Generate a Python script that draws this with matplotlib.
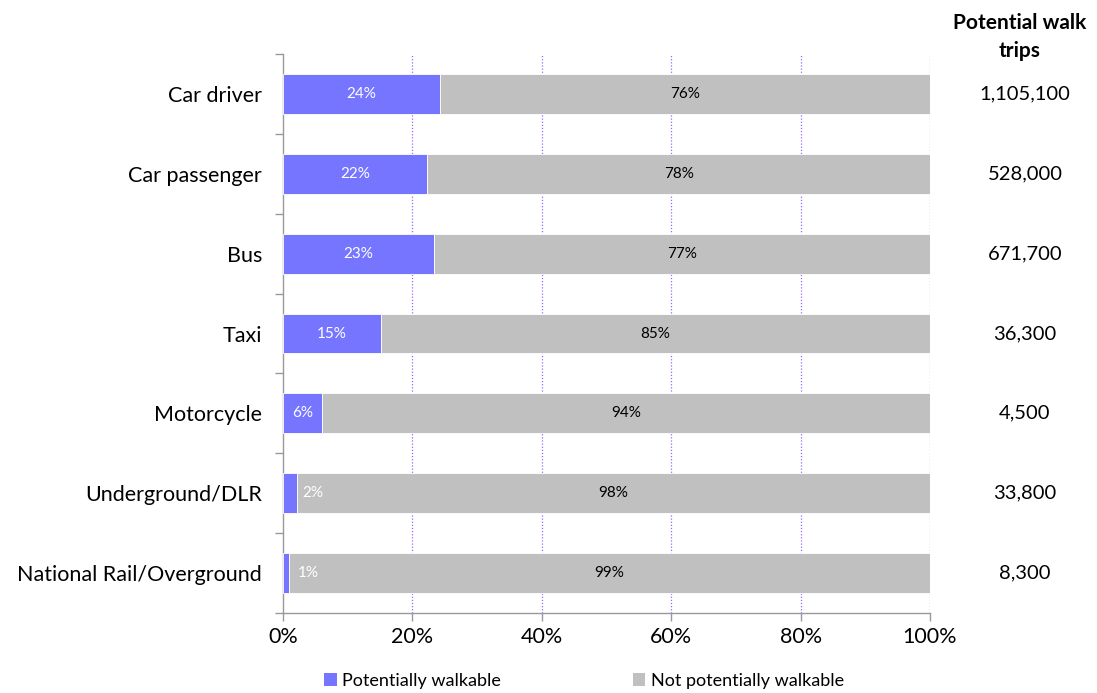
import matplotlib
matplotlib.use("Agg")
import matplotlib.pyplot as plt
import matplotlib.transforms as mtransforms
from matplotlib.patches import Patch

categories = ["Car driver", "Car passenger", "Bus", "Taxi", "Motorcycle",
              "Underground/DLR", "National Rail/Overground"]
walkable = [24.3, 22.3, 23.3, 15.1, 6.0, 2.2, 0.9]
walkable_labels = ["24%", "22%", "23%", "15%", "6%", "2%", "1%"]
not_walkable_labels = ["76%", "78%", "77%", "85%", "94%", "98%", "99%"]
trips = ["1,105,100", "528,000", "671,700", "36,300", "4,500", "33,800", "8,300"]
xticks = [0, 20, 40, 60, 80, 100]
xtick_labels = ["0%", "20%", "40%", "60%", "80%", "100%"]

not_walkable = [100 - v for v in walkable]

plt.rcParams['font.family'] = ['Lato', 'DejaVu Sans']

BLUE = "#7575ff"
GREY = "#c0c0c0"

fig = plt.figure(figsize=(10.97, 6.93), dpi=100)
ax = fig.add_axes([283/1097, 1 - 613/693, (930-283)/1097, (613-54)/693])

y = list(range(len(categories)))
ax.barh(y, walkable, height=0.5, color=BLUE, edgecolor="white", linewidth=0.6, zorder=3)
ax.barh(y, not_walkable, left=walkable, height=0.5, color=GREY, edgecolor="white",
        linewidth=0.6, zorder=3)

trans = mtransforms.blended_transform_factory(fig.transFigure, ax.transData)
for i in y:
    w = walkable[i]
    xw = w / 2 if w >= 5 else w / 2 + 3.5
    ax.text(xw, i, walkable_labels[i], ha="center", va="center", color="white",
            fontsize=11, zorder=4)
    ax.text(w + not_walkable[i] / 2, i, not_walkable_labels[i], ha="center",
            va="center", color="black", fontsize=11, zorder=4)
    ax.text(1025/1097, i, trips[i], transform=trans, ha="center", va="center",
            fontsize=14.5, color="black")

fig.text(1020/1097, 1 - 37/693, "Potential walk\ntrips", ha="center", va="center",
         fontsize=15, fontweight="bold", linespacing=1.45)

ax.set_xlim(0, 100)
ax.set_ylim(len(categories) - 0.5, -0.5)
ax.set_xticks(xticks)
ax.set_xticklabels(xtick_labels, fontsize=15.5)
ax.set_yticks(y)
ax.set_yticklabels(categories, fontsize=15.5)
ax.tick_params(axis="y", length=0, pad=15)
ax.set_yticks([i - 0.5 for i in range(len(categories) + 1)], minor=True)
ax.tick_params(axis="y", which="minor", length=6, color="#999999", width=1)
ax.tick_params(axis="x", length=6, color="#999999", width=1, pad=4)

for v in xticks[1:]:
    ax.axvline(v, color="#9966ff", linestyle=(0, (1, 1.5)), linewidth=0.9, zorder=1)

for s in ["top", "right"]:
    ax.spines[s].set_visible(False)
for s in ["left", "bottom"]:
    ax.spines[s].set_color("#999999")
    ax.spines[s].set_linewidth(1)

handles = [Patch(facecolor=BLUE, label="Potentially walkable"),
           Patch(facecolor=GREY, label="Not potentially walkable")]
fig.legend(handles=handles, loc="center", bbox_to_anchor=(584/1097, 1 - 681/693),
           ncol=2, frameon=False, fontsize=13, handlelength=0.7, handleheight=0.7,
           handletextpad=0.3, columnspacing=7.3)

fig.savefig("out.png", dpi=100)
